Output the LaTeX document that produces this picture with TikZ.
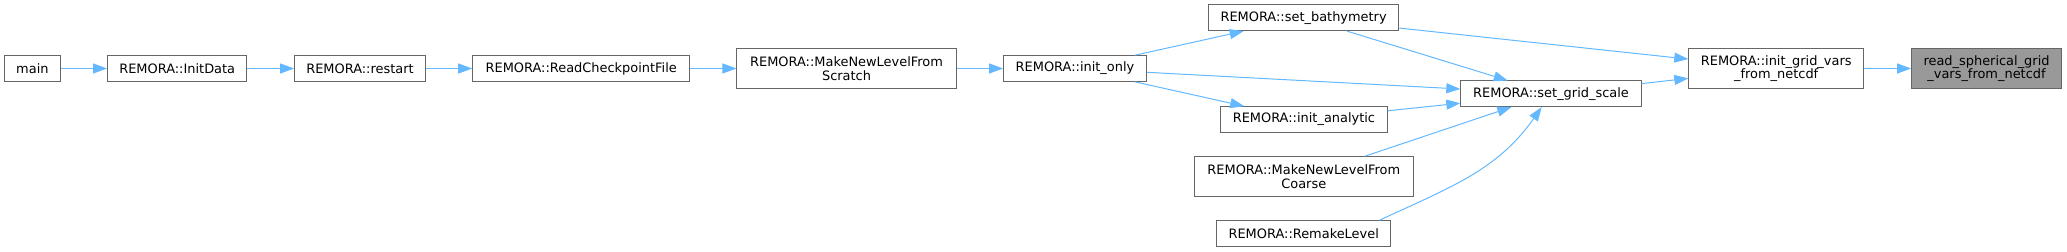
\documentclass[tikz,border=0pt]{standalone}
\usepackage{fontspec}
\setmainfont{DejaVu Sans}
\usepackage{xcolor}
\usepackage{tikz}
\usetikzlibrary{arrows.meta}

\definecolor{edgeblue}{HTML}{63B8FF}
\definecolor{boxgray}{HTML}{666666}
\definecolor{hlgray}{HTML}{999999}

\begin{document}
\begin{tikzpicture}[x=0.75pt, y=-0.75pt,
    fn/.style={draw=boxgray, fill=white, line width=0.75pt, inner sep=0pt, minimum height=19.2pt, align=center, font=\fontsize{9.7}{10.3}\selectfont},
    fnh/.style={fn, fill=hlgray},
    call/.style={draw=edgeblue, line width=0.75pt, -{Triangle[length=10.5pt, width=7.5pt]}}]
    \useasboundingbox (0,0) rectangle (2067,252);
    \node[fn, minimum width=41.9pt] (main) at (32.4,68.5) {main};
    \node[fn, minimum width=104.5pt] (initdata) at (177.2,68.5) {REMORA::InitData};
    \node[fn, minimum width=98.1pt] (restart) at (360,68.5) {REMORA::restart};
    \node[fn, minimum width=162.7pt] (readchk) at (581.2,68.5) {REMORA::ReadCheckpointFile};
    \node[fn, minimum width=164.3pt, minimum height=30.3pt] (mkscratch) at (846.5,68.5) {REMORA::MakeNewLevelFrom\\Scratch};
    \node[fn, minimum width=107.1pt] (initonly) at (1075,68.5) {REMORA::init\_only};
    \node[fn, minimum width=143pt] (setbathy) at (1303.6,17.8) {REMORA::set\_bathymetry};
    \node[fn, minimum width=125.3pt] (initana) at (1303.9,119.5) {REMORA::init\_analytic};
    \node[fn, minimum width=164.3pt, minimum height=30pt] (mkcoarse) at (1303.8,176.7) {REMORA::MakeNewLevelFrom\\Coarse};
    \node[fn, minimum width=130.5pt] (remake) at (1303.7,233.7) {REMORA::RemakeLevel};
    \node[fn, minimum width=135.3pt] (gridscale) at (1551,93.8) {REMORA::set\_grid\_scale};
    \node[fn, minimum width=131.1pt, minimum height=30.3pt] (gridvars) at (1776.2,68.5) {REMORA::init\_grid\_vars\\\_from\_netcdf};
    \node[fnh, minimum width=112.3pt, minimum height=30.3pt] (readsph) at (1986.5,68.5) {read\_spherical\_grid\\\_vars\_from\_netcdf};
    \foreach \i/\j in {main/initdata,initdata/restart,restart/readchk,readchk/mkscratch,mkscratch/initonly,initonly/setbathy,initonly/gridscale,initonly/initana,setbathy/gridscale,setbathy/gridvars,initana/gridscale,mkcoarse/gridscale,gridscale/gridvars,gridvars/readsph} {
        \draw[call] (\i)--(\j);
    }
    \draw[call] (remake.10) to[out=25, in=-125] (gridscale);
\end{tikzpicture}
\end{document}
